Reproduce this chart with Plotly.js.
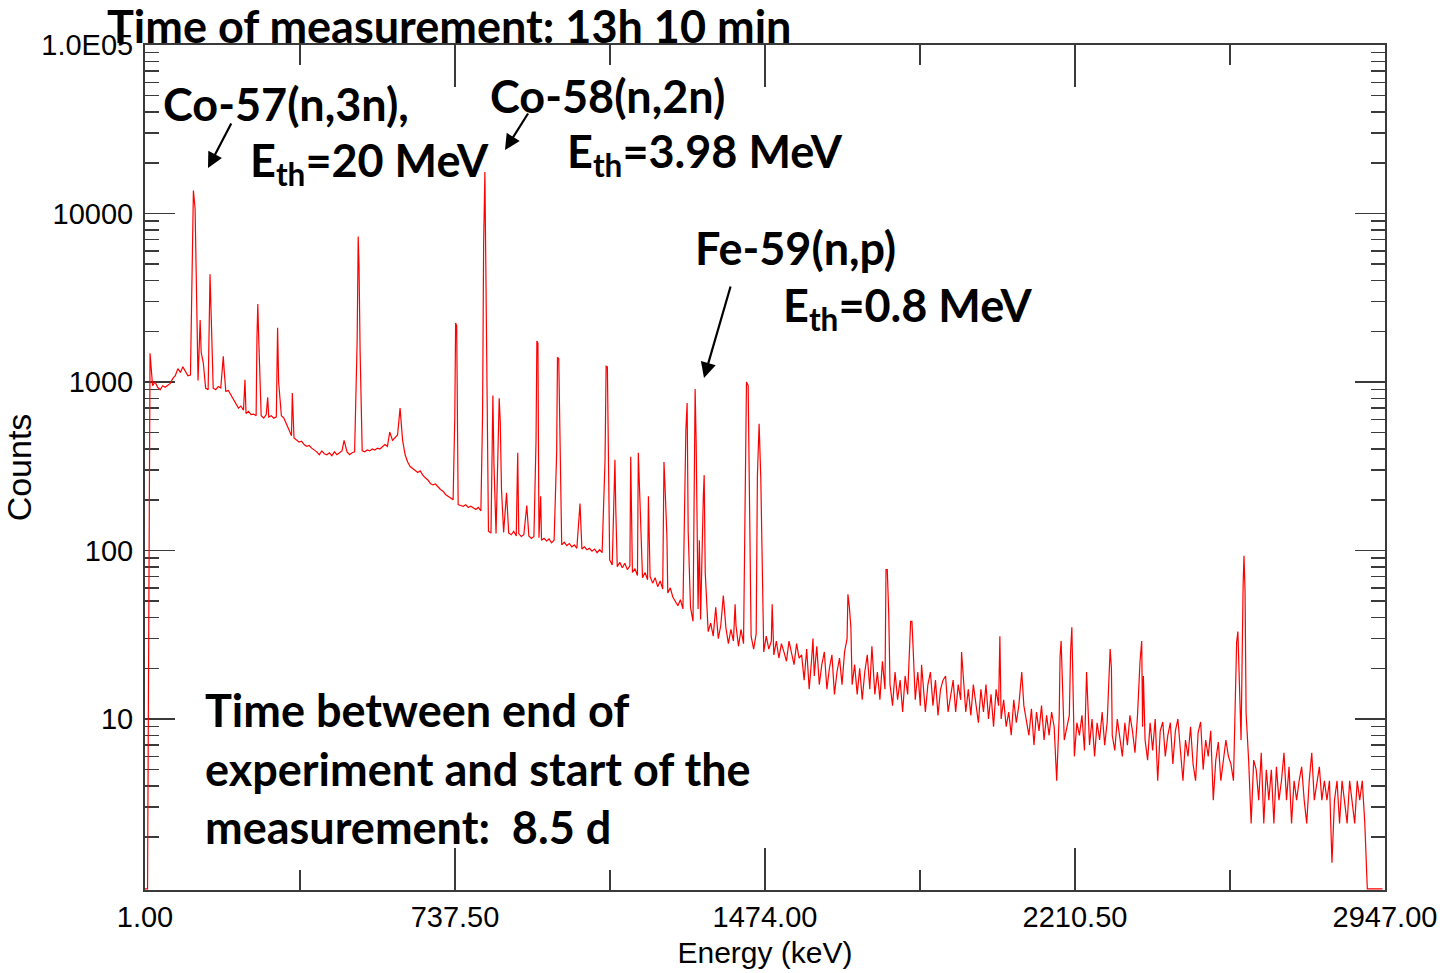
<!DOCTYPE html>
<html>
<head>
<meta charset="utf-8">
<script src="https://cdn.plot.ly/plotly-3.0.1.min.js"></script>
<style>html,body{margin:0;padding:0;background:#fff;}#chart{width:1443px;height:973px;}</style>
</head>
<body>
<div id="chart"></div>
<script>
// Gamma spectrum: energy calibration of the continuum channels
const channelStart = 1;      // keV of first channel
const channelWidth = 6;      // keV per channel

// Continuum counts per channel
const continuumCounts = [
  0.98, 0.98, 1480, 950, 1000, 930, 900, 950, 930, 960,
  980, 1050, 1090, 1200, 1140, 1230, 1160, 1090, 1100, 1050,
  1020, 1020, 990, 960, 920, 900, 910, 920, 900, 940,
  920, 900, 880, 890, 840, 780, 750, 700, 720, 680,
  650, 670, 640, 645, 630, 645, 630, 610, 640, 620,
  630, 610, 620, 600, 630, 610, 555, 520, 480, 465,
  450, 440, 445, 425, 415, 420, 405, 395, 385, 370,
  390, 375, 370, 380, 365, 385, 370, 380, 390, 375,
  385, 370, 380, 385, 375, 380, 390, 385, 395, 390,
  400, 395, 405, 400, 410, 425, 415, 430, 450, 465,
  485, 480, 450, 370, 335, 315, 305, 297, 290, 297,
  280, 270, 262, 250, 245, 248, 238, 230, 225, 215,
  210, 205, 200, 192, 187, 185, 183, 187, 180, 183,
  178, 175, 180, 172, 170, 150, 130, 127, 128, 126,
  130, 124, 128, 122, 127, 124, 130, 122, 126, 121,
  124, 119, 122, 118, 121, 117, 119, 115, 118, 114,
  117, 111, 115, 110, 114, 108, 112, 107, 110, 105,
  108, 103, 107, 102, 105, 101, 103, 99, 102, 97,
  101, 97, 100, 95, 88, 82, 86, 80, 85, 79,
  84, 77, 81, 74, 78, 71, 76, 69, 74, 67,
  70, 64, 69, 61, 66, 59, 64, 56, 60, 53,
  50, 47, 51, 45, 50, 42, 46, 38, 42, 45,
  39, 35, 41, 33, 37, 31, 39, 30, 36, 29,
  35, 28, 34, 29, 36, 27, 34, 28, 33, 27,
  31, 26, 32, 27, 30, 25, 31, 26, 29, 24,
  29, 23, 28, 25, 22, 29, 24, 21, 28, 23,
  24, 17, 26, 15, 23, 18, 27, 16, 21, 25,
  15, 20, 24, 14, 19, 23, 16, 25, 30, 24,
  16, 21, 14, 20, 13, 19, 24, 15, 21, 14,
  19, 13, 22, 15, 24, 16, 12, 19, 13, 17,
  11, 18, 14, 20, 24, 13, 19, 12, 17, 11,
  16, 19, 12, 17, 10.5, 15, 12, 18, 11, 14,
  17, 11, 16, 13, 18, 11, 15, 10.5, 16, 12,
  9.5, 15, 11, 16, 10, 14, 9, 15, 12, 10,
  13, 9, 11, 8, 13, 9.5, 12, 8.5, 12, 10,
  8, 11.5, 7, 11, 8.5, 12, 7.5, 10.5, 8, 11,
  9, 4.3, 10.5, 13, 7.5, 9, 10.5, 12, 6, 9.5,
  8, 10.5, 6.5, 13, 7, 10, 6, 9.5, 7.5, 11,
  7, 9.6, 11, 8, 6.5, 10, 7.5, 6, 9.5, 7,
  10.5, 8.5, 6.3, 10.5, 12, 9, 7.5, 5.7, 9.5, 6.5,
  10, 4.3, 8.5, 9.6, 6, 8, 9.5, 5.4, 8.5, 10,
  6.5, 4.3, 7.5, 6, 9, 5.4, 4.3, 8.3, 9.6, 5,
  7.5, 6, 8.5, 3.3, 5.7, 7.3, 4.3, 5.8, 7.5, 6,
  5.4, 4.3, 7, 8.5, 7.5, 9.2, 7.8, 5.7, 2.4, 5.7,
  5, 3.3, 6.3, 2.4, 5, 3.3, 5, 2.4, 5.2, 3.3,
  4.3, 6.3, 3.3, 5.2, 2.4, 4.3, 3.3, 4.3, 5.2, 3.3,
  2.4, 4.3, 6.3, 3.3, 4.3, 5.2, 3.3, 4.3, 3.3, 4.3,
  1.4, 3.3, 4.3, 2.4, 4.3, 3.3, 2.4, 4.3, 3.3, 2.4,
  4.3, 3.3, 4.3, 2.4, 0.98, 0.98, 0.98, 0.98, 0.98, 0.98, 0.98
];

// Photopeak channels (keV, counts)
const peakEnergy = [
  113.5, 116, 120, 123, 132, 134.5, 139.5, 153, 155.5, 158, 160.5, 187, 189, 238.5,
  267, 269, 271, 292.5, 316, 318.5, 351, 474, 505, 507.5, 509.5, 512, 582.5, 607, 609.5,
  737, 739, 741.5, 803, 805.5, 808.5, 811, 827.5, 830, 842.5, 845, 848, 860, 886.5, 908,
  930, 932, 934.5, 941, 979, 981, 984, 1034.5, 1094, 1096.5, 1099.5, 1117.5, 1119.5,
  1155, 1173, 1175.5, 1197, 1234, 1236.5, 1241, 1286, 1289, 1291.5, 1305, 1308, 1310.5,
  1318, 1327.5, 1329.5, 1332, 1357, 1375, 1403, 1426.5, 1430, 1434, 1456, 1460, 1464,
  1491, 1588, 1671, 1674.5, 1678, 1728, 1761.5, 1764.5, 1768, 1820, 1823, 1826, 1846,
  1897, 1941, 2032, 2084, 2175, 2177.5, 2200, 2203, 2238, 2294, 2297, 2365, 2369, 2373,
  2594.5, 2597.5, 2610, 2612, 2614.5, 2617
];
const peakCounts = [
  4300, 13700, 10700, 3200, 2330, 1500, 1300, 1980, 4360, 2600, 1300, 1420, 1180, 1030,
  1830, 2900, 1870, 810, 2100, 1000, 860, 450, 1740, 7300, 4900, 1550, 505, 700, 570,
  620, 2240, 2150, 640, 6500, 17600, 4300, 830, 330, 800, 580, 230, 220, 380, 185,
  450, 1750, 1700, 210, 380, 1400, 1380, 190, 345, 1240, 1230, 345, 175,
  360, 380, 250, 210, 335, 240, 120, 520, 750, 130, 110, 910, 430,
  115, 210, 280, 74, 46, 54, 48, 190, 1000, 950, 280, 565, 270,
  48, 30, 55, 46, 35, 27, 77, 77, 42, 38, 38, 26, 21,
  17, 25, 31, 19, 23.5, 29, 25, 35, 19, 26, 20, 22, 29, 18,
  28.5, 33, 64, 93, 57, 10.8
];

const xTickVals = [1, 737.5, 1474, 2210.5, 2947];
const xMinorVals = [369.25, 1105.75, 1842.25, 2578.75];
const yTickVals = [10, 100, 1000, 10000, 100000];
const yTickText = ['10', '100', '1000', '10000', '1.0E05'];

// merge continuum channels and photopeak channels
const pts = [];
continuumCounts.forEach((c, i) => {
  const e = channelStart + channelWidth * i;
  if (!peakEnergy.some(p => Math.abs(p - e) < 2)) pts.push([e, c]);
});
peakEnergy.forEach((e, i) => pts.push([e, peakCounts[i]]));
pts.sort((a, b) => a[0] - b[0]);

const yMinor = [];
[1, 10, 100, 1000, 10000].forEach(d => { for (let k = 2; k <= 9; k++) yMinor.push(k * d); });

const axColor = '#3a3a3a';
const tickFont = {family: '"Liberation Sans", Arial, sans-serif', size: 29, color: '#000'};
const annFont = {family: 'Lato, "Open Sans", sans-serif', size: 45, color: '#000'};

const trace = {
  x: pts.map(p => p[0]), y: pts.map(p => p[1]),
  type: 'scatter', mode: 'lines',
  line: {color: '#ff0000', width: 1.2},
  hoverinfo: 'x+y'
};

function px(x) { return (x - 145) / 1240; }
function py(y) { return (890 - y) / 845; }

const annotations = [
  {text: '<b>Time of measurement: 13h 10 min</b>', x: px(105), y: py(26)},
  {text: '<b>Co-57(n,3n),</b>', x: px(161), y: py(104)},
  {text: '<b>E<sub>th</sub>=20 MeV</b>', x: px(248), y: py(163)},
  {text: '<b>Co-58(n,2n)</b>', x: px(488), y: py(96)},
  {text: '<b>E<sub>th</sub>=3.98 MeV</b>', x: px(565), y: py(154)},
  {text: '<b>Fe-59(n,p)</b>', x: px(693), y: py(248)},
  {text: '<b>E<sub>th</sub>=0.8 MeV</b>', x: px(781), y: py(308)},
  {text: '<b>Time between end of<br>experiment and start of the<br>measurement:  8.5 d</b>', x: px(203), y: py(768)}
].map(a => Object.assign({xref: 'paper', yref: 'paper', xanchor: 'left', yanchor: 'middle',
  showarrow: false, align: 'left', font: annFont}, a));

const arrows = [
  {x: px(208), y: py(168), ax: 24, ay: -46},
  {x: px(505), y: py(150), ax: 24, ay: -38},
  {x: px(704), y: py(378), ax: 27, ay: -93}
].map(a => Object.assign({xref: 'paper', yref: 'paper', text: '', showarrow: true,
  arrowhead: 2, arrowsize: 1.4, arrowwidth: 2.2, arrowcolor: '#000', standoff: 0}, a));

const layout = {
  width: 1443, height: 973,
  margin: {l: 145, r: 58, t: 45, b: 83},
  paper_bgcolor: '#fff', plot_bgcolor: '#fff',
  showlegend: false,
  font: tickFont,
  xaxis: {
    range: [1, 2947], tickmode: 'array', tickvals: xTickVals, tickformat: '.2f',
    ticks: 'inside', ticklen: 42, tickwidth: 1.5, tickcolor: axColor,
    showline: true, linecolor: axColor, linewidth: 2, mirror: 'allticks',
    showgrid: false, zeroline: false, layer: 'below traces',
    minor: {tickmode: 'array', tickvals: xMinorVals, ticks: 'inside', ticklen: 20, tickwidth: 1.5, tickcolor: axColor, showgrid: false},
    tickfont: tickFont,
    title: {text: 'Energy (keV)', font: {family: tickFont.family, size: 30, color: '#000'}, standoff: 10}
  },
  yaxis: {
    type: 'log', range: [-0.015, 5], tickmode: 'array', tickvals: yTickVals, ticktext: yTickText,
    ticks: 'inside', ticklen: 30, tickwidth: 1.5, tickcolor: axColor,
    showline: true, linecolor: axColor, linewidth: 2, mirror: 'allticks',
    showgrid: false, zeroline: false, layer: 'below traces',
    minor: {tickmode: 'array', tickvals: yMinor, ticks: 'inside', ticklen: 14, tickwidth: 1.5, tickcolor: axColor, showgrid: false},
    tickfont: tickFont, ticklabelstandoff: 4,
    title: {text: 'Counts', font: {family: tickFont.family, size: 34, color: '#000'}, standoff: 4}
  },
  annotations: annotations.concat(arrows)
};

Plotly.newPlot('chart', [trace], layout, {displayModeBar: false, staticPlot: true});
</script>
</body>
</html>
